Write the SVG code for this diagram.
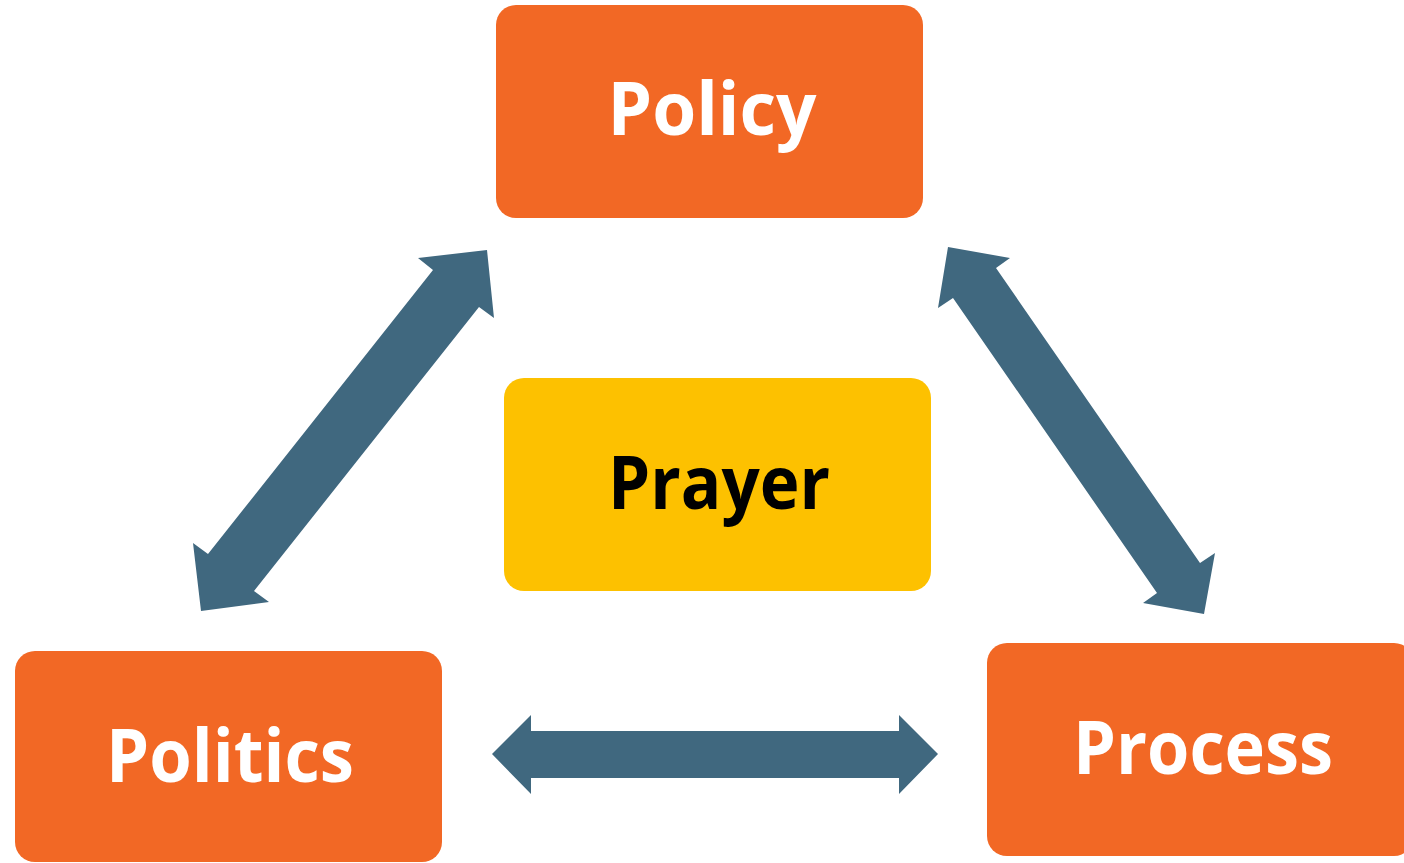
<svg xmlns="http://www.w3.org/2000/svg" width="1404" height="863" viewBox="0 0 1404 863">
<style>
.box{fill:#F26825}
.core{fill:#FDC100}
.lbl{font-family:"Open Sans","Liberation Sans",sans-serif;font-weight:700;font-size:74px;text-anchor:middle}
.w{fill:#FFFFFF}
.k{fill:#000000}
.arr{fill:#40687F}
</style>
<rect width="1404" height="863" fill="#FFFFFF"/>
<g id="connectors">
<polygon class="arr" points="433,270 418,258 487,250 494,318 479,307 254,591 269,602 201,611 193,543 208,554"/>
<polygon class="arr" points="996,268 1010,258 948,247 938,308 953,298 1157,593 1143,603 1204,614 1215,553 1200,563"/>
<polygon class="arr" points="492,754 531,715 531,731 899,731 899,715 938,754 899,794 899,778 531,778 531,794"/>
</g>
<g id="policy">
<rect class="box" x="496" y="5" width="427" height="213" rx="20"/>
<text class="lbl w" x="712" y="135" textLength="209" lengthAdjust="spacingAndGlyphs">Policy</text>
</g>
<g id="prayer">
<rect class="core" x="504" y="378" width="427" height="213" rx="20"/>
<text class="lbl k" x="719" y="509" textLength="222" lengthAdjust="spacingAndGlyphs">Prayer</text>
</g>
<g id="politics">
<rect class="box" x="15" y="651" width="427" height="211" rx="20"/>
<text class="lbl w" x="230" y="782" textLength="248" lengthAdjust="spacingAndGlyphs">Politics</text>
</g>
<g id="process">
<rect class="box" x="987" y="643" width="427" height="213" rx="20"/>
<text class="lbl w" x="1203" y="774" textLength="260" lengthAdjust="spacingAndGlyphs">Process</text>
</g>
</svg>
